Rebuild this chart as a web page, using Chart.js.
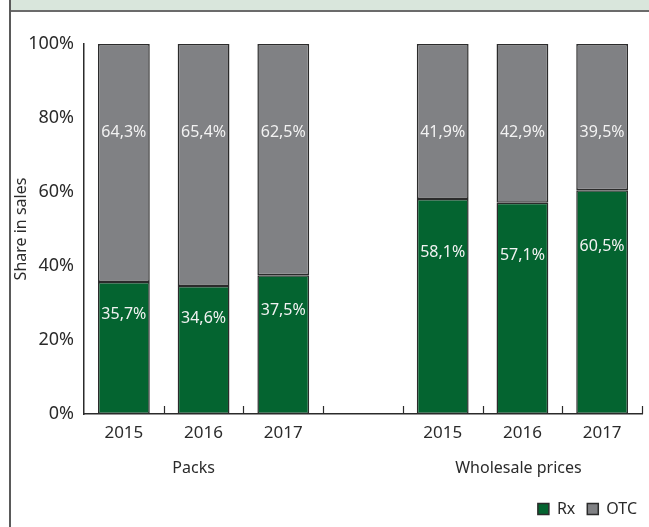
<!DOCTYPE html>
<html>
<head>
<meta charset="utf-8">
<script src="https://cdn.jsdelivr.net/npm/chart.js@4.4.1/dist/chart.umd.min.js"></script>
<style>
  html, body { margin: 0; padding: 0; background: #fff; }
  #wrap { position: relative; width: 649px; height: 527px; overflow: hidden; }
  #band { position: absolute; left: 11px; top: 0; width: 638px; height: 10px; background: #d9e6dc; border-bottom: 2px solid #6b6b6b; }
  #edge { position: absolute; left: 9px; top: 0; width: 2px; height: 527px; background: #5a5a5a; }
  #chart { position: absolute; left: 0; top: 0; }
</style>
</head>
<body>
<div id="wrap">
  <div id="band"></div>
  <div id="edge"></div>
  <canvas id="chart" width="649" height="527"></canvas>
</div>
<script>
const years = ['2015', '2016', '2017', '', '2015', '2016', '2017'];
const groups = ['Packs', 'Wholesale prices'];
const rxShare = [35.7, 34.6, 37.5, null, 58.1, 57.1, 60.5];
const otcShare = [64.3, 65.4, 62.5, null, 41.9, 42.9, 39.5];
const yTicks = [0, 20, 40, 60, 80, 100];

const FONT = '"Noto Sans", "Open Sans", sans-serif';
const INK = '#2b2b2b';

const fmt = v => v.toFixed(1).replace('.', ',') + '%';

// value labels inside the stacked segments, tick marks between the
// categories and the group captions under the year labels
const extras = {
  id: 'extras',
  afterDatasetsDraw(chart) {
    const ctx = chart.ctx;
    const area = chart.chartArea;
    ctx.save();
    ctx.font = '16px ' + FONT;
    ctx.fillStyle = '#f2f2f2';
    ctx.textAlign = 'center';
    ctx.textBaseline = 'middle';
    chart.data.datasets.forEach((ds, di) => {
      chart.getDatasetMeta(di).data.forEach((bar, i) => {
        const v = ds.data[i];
        if (v == null) return;
        const y = di === 0
          ? bar.y + (bar.base - bar.y) * 0.25
          : bar.y + area.height * 0.24;
        ctx.fillText(fmt(v), bar.x, y);
      });
    });
    ctx.restore();
  },
  afterDraw(chart) {
    const ctx = chart.ctx;
    const x = chart.scales.x;
    const n = years.length;
    const step = (x.right - x.left) / n;
    ctx.save();
    ctx.strokeStyle = INK;
    ctx.lineWidth = 1.2;
    for (let i = 1; i <= n; i++) {
      const px = Math.round(x.left + i * step) + 0.5;
      ctx.beginPath();
      ctx.moveTo(px, x.top);
      ctx.lineTo(px, x.top - 8);
      ctx.stroke();
    }
    ctx.font = '16px ' + FONT;
    ctx.fillStyle = INK;
    ctx.textAlign = 'center';
    ctx.textBaseline = 'middle';
    const mid = (a, b) => (x.getPixelForValue(a) + x.getPixelForValue(b)) / 2;
    ctx.fillText(groups[0], mid(0, 2) - 10, x.top + 54);
    ctx.fillText(groups[1], mid(4, 6) - 4, x.top + 54);
    ctx.restore();
  }
};

new Chart(document.getElementById('chart'), {
  type: 'bar',
  data: {
    labels: years,
    datasets: [
      {
        label: 'Rx',
        data: rxShare,
        backgroundColor: '#046430',
        borderColor: INK,
        borderWidth: 1.5,
        borderSkipped: false,
        barPercentage: 0.65,
        categoryPercentage: 1
      },
      {
        label: 'OTC',
        data: otcShare,
        backgroundColor: '#808184',
        borderColor: INK,
        borderWidth: 1.5,
        borderSkipped: false,
        barPercentage: 0.65,
        categoryPercentage: 1
      }
    ]
  },
  options: {
    responsive: false,
    animation: false,
    layout: { padding: { left: 12, right: 0, top: 44, bottom: 0 } },
    plugins: {
      tooltip: { enabled: false },
      legend: {
        position: 'bottom',
        align: 'end',
        labels: {
          boxWidth: 11,
          boxHeight: 11,
          padding: 12,
          color: INK,
          font: { family: FONT, size: 16 }
        }
      }
    },
    scales: {
      x: {
        stacked: true,
        grid: { display: false },
        border: { display: true, color: INK, width: 1.5 },
        ticks: { color: INK, padding: 1, font: { family: FONT, size: 17 } },
        afterFit(scale) { scale.height = 75; }
      },
      y: {
        stacked: true,
        min: 0,
        max: 100,
        grid: { display: false, drawTicks: false },
        border: { display: true, color: INK, width: 1.5 },
        afterBuildTicks(scale) { scale.ticks = yTicks.map(v => ({ value: v })); },
        ticks: {
          color: INK,
          padding: 10,
          font: { family: FONT, size: 18 },
          callback: v => v + '%'
        },
        title: {
          display: true,
          text: 'Share in sales',
          color: INK,
          padding: 0,
          font: { family: FONT, size: 16 }
        },
        afterFit(scale) { scale.width = 72; }
      },
      // empty strip on the right so the plot stops short of the edge
      edge: {
        position: 'right',
        grid: { display: false },
        border: { display: false },
        ticks: { display: false },
        afterFit(scale) { scale.width = 7; }
      }
    }
  },
  plugins: [extras]
});
</script>
</body>
</html>
